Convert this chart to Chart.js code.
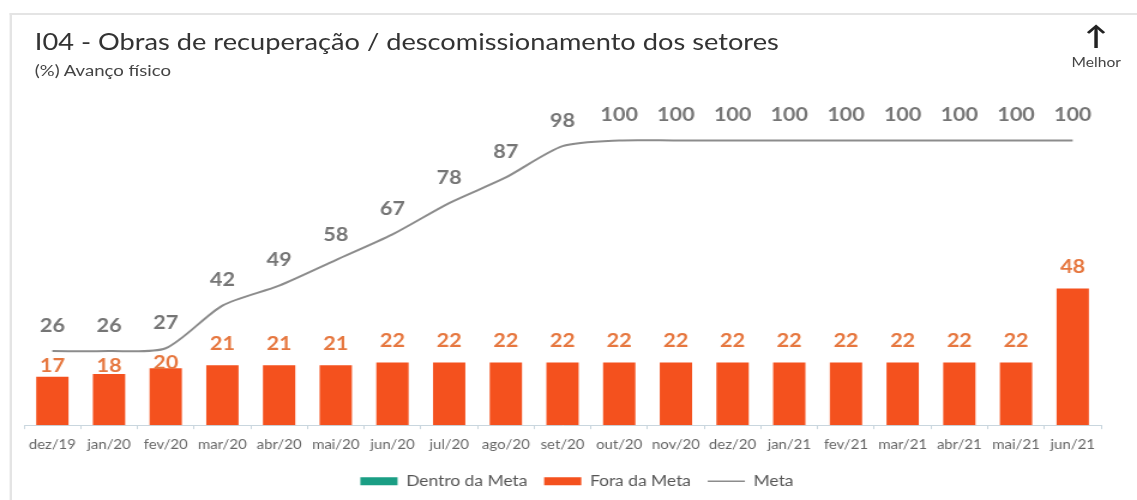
<!DOCTYPE html>
<html>
<head>
<meta charset="utf-8">
<script src="https://cdn.jsdelivr.net/npm/chart.js@4.4.1/dist/chart.umd.min.js"></script>
<style>
  html, body { margin: 0; padding: 0; background: #fff; overflow: hidden; }
  /* the reference is a horizontally stretched picture, so the whole page is stretched the same way */
  #wrap { position: relative; width: 948px; height: 500px; font-family: 'Lato', sans-serif;
          transform: scaleX(1.1994); transform-origin: 0 0; }
  #frame { position: absolute; left: 8px; top: 13px; right: -5px; bottom: -5px; border-left: 2px solid #e4e4e4; border-top: 2px solid #e4e4e4; }
  #title { position: absolute; left: 29px; top: 28px; font-size: 22.7px; color: #333; white-space: nowrap; }
  #subtitle { position: absolute; left: 29px; top: 61px; font-size: 15.5px; color: #444; white-space: nowrap; }
  #better { position: absolute; left: 889px; top: 22px; width: 50px; text-align: center; color: #222; }
  #better .arr { font-size: 26px; font-weight: bold; line-height: 26px; }
  #better .lbl { font-size: 13px; color: #444; margin-top: 6px; }
  canvas { position: absolute; left: 0; top: 0; }
</style>
</head>
<body>
<div id="wrap">
  <div id="frame"></div>
  <div id="title">I04 - Obras de recuperação / descomissionamento dos setores</div>
  <div id="subtitle">(%) Avanço físico</div>
  <div id="better"><div class="arr">↑</div><div class="lbl">Melhor</div></div>
  <canvas id="chart" width="948" height="500"></canvas>
</div>
<script>
const months = ['dez/19','jan/20','fev/20','mar/20','abr/20','mai/20','jun/20','jul/20','ago/20','set/20',
                'out/20','nov/20','dez/20','jan/21','fev/21','mar/21','abr/21','mai/21','jun/21'];
const dentroMeta = [null,null,null,null,null,null,null,null,null,null,null,null,null,null,null,null,null,null,null];
const foraMeta   = [17,18,20,21,21,21,22,22,22,22,22,22,22,22,22,22,22,22,48];
const meta       = [26,26,27,42,49,58,67,78,87,98,100,100,100,100,100,100,100,100,100];

const TEAL = '#1a9e84', ORANGE = '#f4511e', GREY = '#8c8c8c';

// value labels above bars and line points
const valueLabels = {
    id: 'valueLabels',
    afterDatasetsDraw(chart) {
        const ctx = chart.ctx;
        const barMeta  = chart.getDatasetMeta(1);
        const lineMeta = chart.getDatasetMeta(2);
        ctx.save();
        ctx.textAlign = 'center';
        ctx.textBaseline = 'middle';
        ctx.font = "bold 18px 'Lato', sans-serif";
        ctx.fillStyle = '#757575';
        lineMeta.data.forEach((p, i) => ctx.fillText(meta[i], p.x, p.y - 25));
        ctx.fillStyle = '#e6773f';
        barMeta.data.forEach((b, i) => {
            if (foraMeta[i] == null) return;
            let y = b.y - 21;
            const ly = lineMeta.data[i].y;
            // keep clear of the Meta line when it runs just above the bar
            if (Math.abs(y - ly) < 14) y = ly + 15;
            ctx.fillText(foraMeta[i], b.x, y);
        });
        ctx.restore();
    }
};

// invisible side axes only reserve room, so the legend can stay centred like the original
const spacer = w => ({
    display: true, grid: { display: false }, border: { display: false }, ticks: { display: false },
    afterFit: s => { s.width = w; }
});

new Chart(document.getElementById('chart'), {
    type: 'bar',
    data: {
        labels: months,
        datasets: [
            { label: 'Dentro da Meta', data: dentroMeta, backgroundColor: TEAL, grouped: false, barPercentage: 0.57, categoryPercentage: 1, order: 2 },
            { label: 'Fora da Meta',   data: foraMeta,   backgroundColor: ORANGE, grouped: false, barPercentage: 0.57, categoryPercentage: 1, order: 2 },
            { label: 'Meta', type: 'line', data: meta, borderColor: GREY, backgroundColor: GREY, borderWidth: 2,
              pointRadius: 0, tension: 0.25, fill: false, order: 1 }
        ]
    },
    options: {
        responsive: false,
        animation: false,
        layout: { padding: { left: 14, right: 0, top: 112, bottom: 1.5 } },
        plugins: {
            tooltip: { enabled: false },
            legend: {
                position: 'bottom',
                labels: {
                    color: '#555',
                    font: { family: "'Lato', sans-serif", size: 14.5 },
                    usePointStyle: true,
                    pointStyleWidth: 31,
                    boxHeight: 8,
                    padding: 14,
                    generateLabels: chart => chart.data.datasets.map((ds, i) => ({
                        text: ds.label,
                        fillStyle: ds.backgroundColor,
                        strokeStyle: ds.type === 'line' ? GREY : ds.backgroundColor,
                        lineWidth: ds.type === 'line' ? 1.5 : 0,
                        pointStyle: ds.type === 'line' ? 'line' : 'rect',
                        fontColor: '#555',
                        datasetIndex: i
                    }))
                }
            }
        },
        scales: {
            y:  { ...spacer(6), position: 'left', min: 0, max: 110 },
            yR: { ...spacer(30), position: 'right' },
            x: {
                border: { display: true, color: '#c9d6de', width: 1 },
                grid: { drawOnChartArea: false, drawTicks: true, tickLength: 4, color: '#c9d6de', offset: true },
                ticks: { color: '#666', font: { family: "'Lato', sans-serif", size: 12.5, lineHeight: 0.55 }, maxRotation: 0, autoSkip: false, padding: 12 }
            }
        }
    },
    plugins: [valueLabels]
});
</script>
</body>
</html>
